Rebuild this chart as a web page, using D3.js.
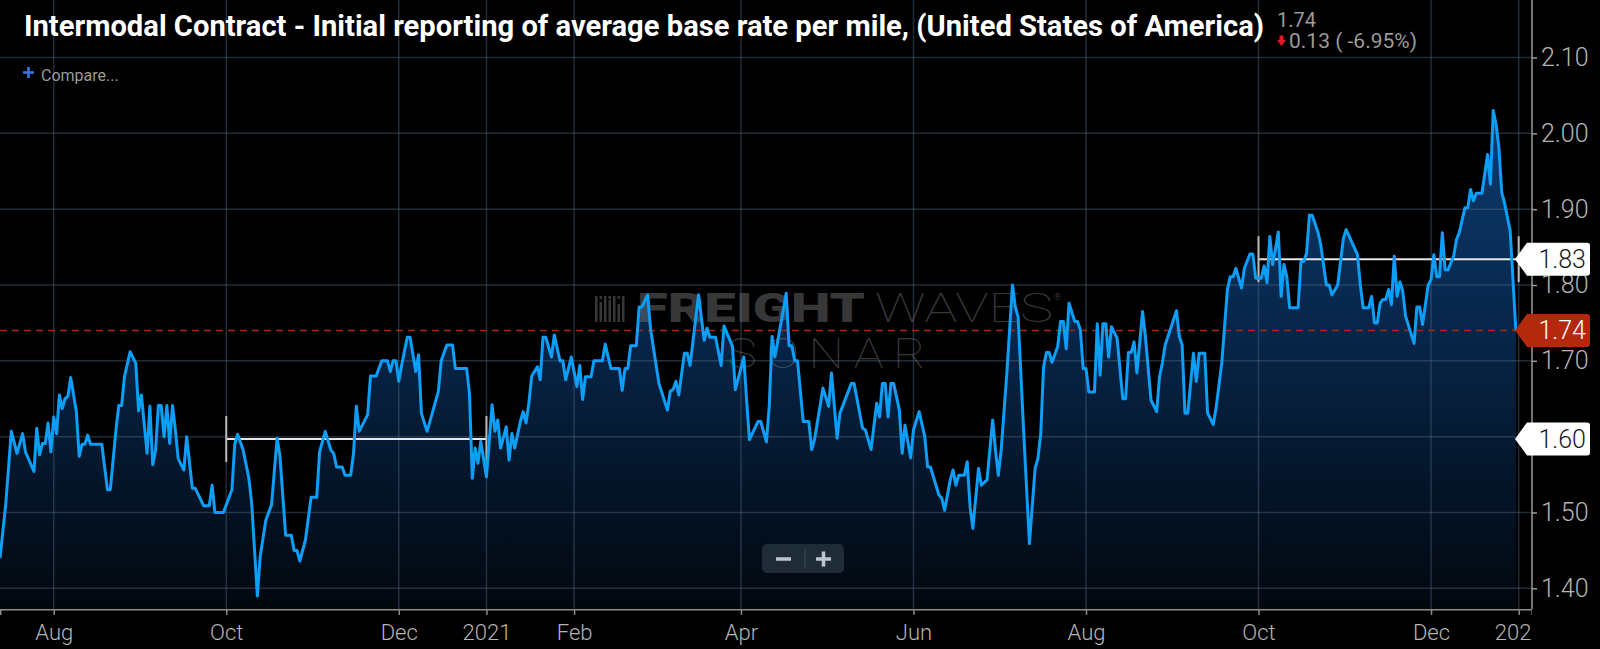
<!DOCTYPE html>
<html>
<head>
<meta charset="utf-8">
<script src="https://cdn.jsdelivr.net/npm/d3@7"></script>
<style>
  html, body { margin: 0; padding: 0; background: #000; }
  svg { display: block; font-family: Roboto, "Noto Sans", sans-serif; }
</style>
</head>
<body>
<script>
// series: days since the first observation (2020-07-13) and the rate per mile
var startDate = new Date(2020, 6, 13);

var dayOffsets = [0,2,4,6,8,9,12,13,14,15,16,17,18,19,20,21,22,23,24,25,27,28,29,30,31,32,36,38,39,41,42,43,44,46,48,49,50,52,53,54,55,56,57,58,59,60,61,62,63,65,66,68,69,72,74,75,76,79,82,83,84,86,88,89,91,92,94,96,98,99,101,103,104,105,106,108,110,112,113,115,117,118,119,121,122,124,125,126,127,130,131,133,135,137,138,139,140,141,142,144,145,147,148,149,151,153,155,156,158,160,161,165,166,167,168,169,170,172,174,175,176,177,179,180,181,182,184,185,186,187,188,190,191,192,193,195,196,198,199,200,202,204,205,206,207,209,210,213,214,216,217,219,220,221,222,223,225,226,227,229,230,233,236,237,238,239,240,242,243,244,247,249,250,251,253,255,256,259,260,263,264,265,268,269,271,272,273,274,278,279,280,281,282,284,286,287,288,291,293,294,296,297,301,302,305,306,308,310,311,312,313,314,315,316,318,319,320,322,323,325,327,328,329,332,333,334,336,337,338,339,341,342,343,344,345,346,347,349,351,352,353,354,356,358,359,360,362,364,366,367,368,369,370,371,372,374,375,376,377,378,380,381,382,383,384,385,387,388,389,390,391,392,393,395,397,398,399,400,401,402,404,405,407,409,410,411,412,416,417,418,419,420,422,423,424,426,427,429,430,432,434,435,436,437,439,440,442,443,444,446,447,448,449,450,451,452,453,454,455,456,459,460,461,462,463,464,466,467,469,470,471,473,475,476,480,481,482,484,485,486,487,488,489,490,491,492,493,494,495,496,497,500,501,502,503,505,506,507,508,509,510,511,512,514,515,516,518,519,520,521,522,524,526,527,528,529,530,531,532,534,536];

var rateValues = [1.44,1.51,1.607,1.578,1.604,1.58,1.554,1.611,1.576,1.591,1.591,1.618,1.58,1.626,1.604,1.655,1.637,1.65,1.653,1.678,1.633,1.574,1.59,1.59,1.602,1.59,1.59,1.53,1.53,1.609,1.641,1.641,1.679,1.712,1.697,1.634,1.655,1.578,1.64,1.563,1.582,1.641,1.641,1.60,1.641,1.591,1.641,1.609,1.571,1.556,1.60,1.532,1.532,1.509,1.509,1.536,1.50,1.50,1.53,1.59,1.603,1.582,1.545,1.512,1.39,1.442,1.49,1.51,1.598,1.574,1.47,1.47,1.45,1.45,1.436,1.464,1.52,1.52,1.58,1.607,1.582,1.578,1.56,1.56,1.549,1.549,1.578,1.64,1.607,1.629,1.68,1.68,1.70,1.70,1.686,1.70,1.70,1.673,1.694,1.731,1.731,1.686,1.708,1.631,1.607,1.633,1.66,1.70,1.721,1.721,1.69,1.69,1.657,1.545,1.585,1.565,1.594,1.547,1.642,1.607,1.622,1.585,1.613,1.569,1.604,1.585,1.62,1.633,1.618,1.644,1.68,1.692,1.675,1.731,1.731,1.705,1.734,1.70,1.70,1.675,1.705,1.666,1.694,1.649,1.679,1.679,1.70,1.70,1.722,1.69,1.69,1.69,1.661,1.69,1.69,1.72,1.72,1.771,1.771,1.787,1.743,1.67,1.635,1.66,1.662,1.673,1.655,1.71,1.71,1.694,1.787,1.727,1.743,1.731,1.731,1.694,1.746,1.719,1.662,1.705,1.648,1.596,1.62,1.62,1.593,1.64,1.732,1.705,1.789,1.72,1.72,1.70,1.70,1.62,1.62,1.583,1.596,1.664,1.64,1.684,1.598,1.631,1.67,1.67,1.611,1.609,1.583,1.644,1.626,1.67,1.67,1.626,1.67,1.67,1.635,1.578,1.615,1.572,1.609,1.633,1.60,1.56,1.56,1.523,1.519,1.503,1.543,1.556,1.536,1.549,1.549,1.567,1.508,1.479,1.519,1.558,1.536,1.543,1.622,1.582,1.549,1.582,1.683,1.80,1.771,1.758,1.604,1.459,1.558,1.571,1.604,1.692,1.711,1.711,1.698,1.719,1.752,1.752,1.716,1.776,1.752,1.752,1.741,1.69,1.69,1.659,1.659,1.749,1.681,1.749,1.749,1.705,1.745,1.73,1.65,1.65,1.711,1.711,1.725,1.684,1.765,1.732,1.648,1.633,1.679,1.697,1.721,1.766,1.732,1.721,1.631,1.631,1.71,1.673,1.71,1.71,1.631,1.616,1.638,1.697,1.794,1.811,1.811,1.822,1.796,1.822,1.841,1.841,1.809,1.809,1.825,1.803,1.864,1.827,1.847,1.87,1.785,1.827,1.811,1.77,1.77,1.831,1.831,1.842,1.892,1.892,1.87,1.853,1.80,1.80,1.787,1.80,1.861,1.873,1.84,1.80,1.77,1.77,1.785,1.75,1.75,1.776,1.781,1.781,1.794,1.774,1.838,1.785,1.804,1.792,1.759,1.723,1.771,1.771,1.748,1.80,1.807,1.84,1.811,1.811,1.869,1.82,1.82,1.838,1.86,1.869,1.902,1.902,1.926,1.911,1.921,1.921,1.972,1.933,2.03,2.012,1.981,1.922,1.908,1.871,1.74];

// axis ticks
var yTicks = [1.40, 1.50, 1.60, 1.70, 1.80, 1.90, 2.00, 2.10];
var xTickDates = ["2020-08-01","2020-10-01","2020-12-01","2021-01-01","2021-02-01","2021-04-01","2021-06-01","2021-08-01","2021-10-01","2021-12-01","2022-01-01"];

// quarter averages drawn as white reference lines
var refStarts = ["2020-10-01", "2021-10-01"];
var refEnds = ["2021-01-01", "2022-01-01"];
var refValues = [1.597, 1.834];

var titleText = "Intermodal Contract - Initial reporting of average base rate per mile, (United States of America)";
var lastValue = 1.74, lastChange = 0.13, lastChangePct = -6.95;

var parseDay = d3.timeParse("%Y-%m-%d");

function drawChart(){
    var width = 1600, height = 649;
    var plotRight = 1532, plotBottom = 609;

    var svg = d3.select("body").append("svg")
        .attr("width", width)
        .attr("height", height);

    svg.append("rect").attr("width", width).attr("height", height).attr("fill", "#000");

    var x = d3.scaleTime()
        .domain([startDate, d3.timeHour.offset(d3.timeDay.offset(startDate, 541), 17)])
        .range([0, plotRight]);
    var y = d3.scaleLinear()
        .domain([1.40, 2.10])
        .range([588.3, 57.5]);

    var data = dayOffsets.map(function(d, i){
        return {date: d3.timeDay.offset(startDate, d), value: rateValues[i]};
    });

    //gradient for the area under the line
    var defs = svg.append("defs");
    var grad = defs.append("linearGradient")
        .attr("id", "areaFill")
        .attr("gradientUnits", "userSpaceOnUse")
        .attr("x1", 0).attr("y1", 120).attr("x2", 0).attr("y2", plotBottom);
    grad.append("stop").attr("offset", 0).attr("stop-color", "#0d3b6e");
    grad.append("stop").attr("offset", 0.45).attr("stop-color", "#072548");
    grad.append("stop").attr("offset", 1).attr("stop-color", "#02070e");

    defs.append("clipPath").attr("id", "xclip")
        .append("rect").attr("x", -60).attr("y", 0).attr("width", plotRight + 60).attr("height", 60);

    var area = d3.area()
        .x(function(d){ return x(d.date); })
        .y0(plotBottom)
        .y1(function(d){ return y(d.value); });

    svg.append("path")
        .datum(data)
        .attr("d", area)
        .attr("fill", "url(#areaFill)");

    //grid
    var grid = svg.append("g").attr("stroke", "rgba(80,105,130,0.42)").attr("stroke-width", 1.5);
    grid.selectAll(".hg").data(yTicks).enter().append("line")
        .attr("x1", 0).attr("x2", plotRight)
        .attr("y1", function(d){ return y(d); }).attr("y2", function(d){ return y(d); });
    grid.selectAll(".vg").data(xTickDates).enter().append("line")
        .attr("x1", function(d){ return x(parseDay(d)); }).attr("x2", function(d){ return x(parseDay(d)); })
        .attr("y1", 0).attr("y2", plotBottom);

    //watermark
    var wm = svg.append("g").attr("fill", "#7a7a7a").attr("opacity", 0.45);
    var bars = [[595,2.5,26],[599.5,2.5,20],[604,2.5,26],[608.5,2.5,22],[613,2.5,26],[617.5,2.5,18],[622,2.5,26]];
    bars.forEach(function(b, i){
        wm.append("rect").attr("x", b[0]).attr("y", 296 + (26 - b[2])).attr("width", b[1]).attr("height", b[2]);
        if (i % 2 == 1) wm.append("rect").attr("x", b[0]).attr("y", 296).attr("width", b[1]).attr("height", 3);
    });
    wm.append("text").attr("x", 637).attr("y", 322)
        .attr("font-size", 40).attr("font-weight", 900)
        .attr("textLength", 228).attr("lengthAdjust", "spacingAndGlyphs")
        .text("FREIGHT");
    wm.append("text").attr("x", 875).attr("y", 322)
        .attr("font-size", 40).attr("font-weight", 100)
        .attr("textLength", 178).attr("lengthAdjust", "spacingAndGlyphs")
        .text("WAVES");
    wm.append("text").attr("x", 1054).attr("y", 300)
        .attr("font-size", 9).text("®");
    wm.append("text").attr("x", 727).attr("y", 368)
        .attr("font-size", 43).attr("font-weight", 100)
        .attr("letter-spacing", 8)
        .attr("textLength", 208).attr("lengthAdjust", "spacingAndGlyphs")
        .text("SONAR");

    //dashed line for the latest value
    var lastDate = data[data.length - 1].date;
    svg.append("line")
        .attr("x1", 0).attr("x2", x(lastDate))
        .attr("y1", y(lastValue)).attr("y2", y(lastValue))
        .attr("stroke", "#a8280f").attr("stroke-width", 1.5)
        .attr("stroke-dasharray", "7,5");

    //white quarter reference lines
    var refs = refValues.map(function(v, i){
        return {x1: x(parseDay(refStarts[i])), x2: x(parseDay(refEnds[i])), y: y(v)};
    });
    var refG = svg.append("g").attr("stroke", "#e6e6e6").attr("stroke-width", 2);
    refs.forEach(function(r){
        refG.append("line").attr("x1", r.x1).attr("x2", r.x2).attr("y1", r.y).attr("y2", r.y);
        refG.append("line").attr("x1", r.x1).attr("x2", r.x1).attr("y1", r.y - 23).attr("y2", r.y + 23).attr("stroke", "#bbb");
        refG.append("line").attr("x1", r.x2).attr("x2", r.x2).attr("y1", r.y - 23).attr("y2", r.y + 23).attr("stroke", "#bbb");
    });

    //the series line
    var line = d3.line()
        .x(function(d){ return x(d.date); })
        .y(function(d){ return y(d.value); });
    svg.append("path")
        .datum(data)
        .attr("d", line)
        .attr("fill", "none")
        .attr("stroke", "#0d9ef7")
        .attr("stroke-width", 3)
        .attr("stroke-linejoin", "round");

    //x axis
    var xAxis = d3.axisBottom(x)
        .tickValues(xTickDates.map(parseDay))
        .tickFormat(function(d){ return d.getMonth() === 0 ? d3.timeFormat("%Y")(d) : d3.timeFormat("%b")(d); })
        .tickSize(6)
        .tickPadding(9);
    var xg = svg.append("g")
        .attr("transform", "translate(0," + plotBottom + ")")
        .attr("clip-path", "url(#xclip)")
        .call(xAxis);
    xg.select(".domain").attr("stroke", "#8c8c8c").attr("stroke-width", 2);
    xg.selectAll(".tick line").attr("stroke", "#8c8c8c").attr("stroke-width", 1.5);
    xg.selectAll(".tick text")
        .attr("fill", "#b4b4b4")
        .attr("font-size", 22)
        .attr("font-weight", 300)
        .attr("font-family", "Roboto, sans-serif");

    //y axis on the right
    svg.append("line")
        .attr("x1", plotRight).attr("x2", plotRight)
        .attr("y1", 0).attr("y2", plotBottom)
        .attr("stroke", "#9a9a9a").attr("stroke-width", 1.5);
    var yAxis = d3.axisRight(y)
        .tickValues(yTicks)
        .tickFormat(d3.format(".2f"))
        .tickSize(5)
        .tickPadding(4);
    var yg = svg.append("g")
        .attr("transform", "translate(" + plotRight + ",0)")
        .call(yAxis);
    yg.select(".domain").remove();
    yg.selectAll(".tick line").attr("stroke", "#9a9a9a").attr("stroke-width", 1.5);
    yg.selectAll(".tick text")
        .attr("fill", "#b4b4b4")
        .attr("font-size", 25)
        .attr("font-weight", 300)
        .attr("font-family", "Roboto, sans-serif");

    //value tags at the right, on top of the axis labels
    function drawTag(value, fill, textFill){
        var yc = y(value), tip = 1515, right = 1590, h = 16.5;
        svg.append("path")
            .attr("d", "M" + tip + "," + yc + "L" + (tip + 12) + "," + (yc - h) +
                "L" + (right - 3) + "," + (yc - h) + "Q" + right + "," + (yc - h) + " " + right + "," + (yc - h + 3) +
                "L" + right + "," + (yc + h - 3) + "Q" + right + "," + (yc + h) + " " + (right - 3) + "," + (yc + h) +
                "L" + (tip + 12) + "," + (yc + h) + "Z")
            .attr("fill", fill);
        svg.append("text")
            .attr("x", 1586).attr("y", yc)
            .attr("dy", "0.36em")
            .attr("text-anchor", "end")
            .attr("font-size", 25).attr("font-weight", 300)
            .attr("fill", textFill)
            .text(value.toFixed(2));
    }
    drawTag(refValues[1], "#ffffff", "#1a1a1a");
    drawTag(lastValue, "#b3290d", "#ffffff");
    drawTag(refValues[0], "#ffffff", "#1a1a1a");

    //title and header
    svg.append("text")
        .attr("x", 24).attr("y", 36)
        .attr("font-size", 30).attr("font-weight", 700)
        .attr("fill", "#ffffff")
        .attr("textLength", 1240).attr("lengthAdjust", "spacingAndGlyphs")
        .text(titleText);

    svg.append("text")
        .attr("x", 1277).attr("y", 27)
        .attr("font-size", 20).attr("fill", "#9a9a9a")
        .text(lastValue.toFixed(2));
    svg.append("path")
        .attr("d", "M1279.5,35.5H1283.5V40H1286L1281.5,46L1277,40H1279.5Z")
        .attr("fill", "#e3182c");
    svg.append("text")
        .attr("x", 1289).attr("y", 48)
        .attr("font-size", 21).attr("fill", "#9a9a9a")
        .text(lastChange.toFixed(2) + " ( " + lastChangePct.toFixed(2) + "%)");

    //compare link
    svg.append("path")
        .attr("d", "M23,72.5H34M28.5,67V78")
        .attr("stroke", "#3b78e7").attr("stroke-width", 2.5);
    svg.append("text")
        .attr("x", 41).attr("y", 81)
        .attr("font-size", 16).attr("fill", "#9a9a9a")
        .text("Compare...");

    //zoom buttons
    svg.append("rect")
        .attr("x", 762).attr("y", 544).attr("width", 82).attr("height", 29)
        .attr("rx", 5).attr("fill", "#1f2c38");
    svg.append("line")
        .attr("x1", 805).attr("x2", 805).attr("y1", 549).attr("y2", 568)
        .attr("stroke", "#3b4b59").attr("stroke-width", 1);
    svg.append("path")
        .attr("d", "M776,559H791M816,559H831M823.5,551.5V566.5")
        .attr("stroke", "#bcc5ce").attr("stroke-width", 3.5);
}

window.onload = drawChart;
</script>
</body>
</html>
